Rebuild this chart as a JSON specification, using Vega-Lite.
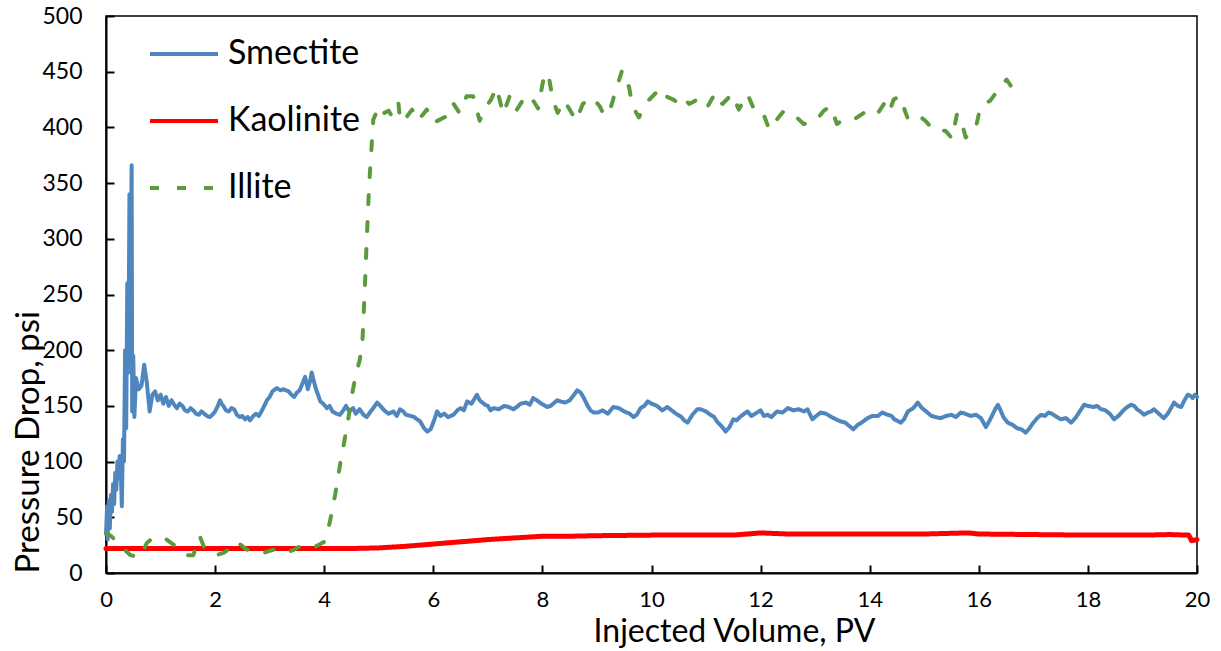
{
  "$schema": "https://vega.github.io/schema/vega-lite/v6.json",
  "width": 1091,
  "height": 557,
  "autosize": "none",
  "padding": {"left": 106, "top": 16, "right": 24, "bottom": 78},
  "background": "white",
  "config": {
    "view": {"stroke": "black", "strokeWidth": 1.5},
    "font": "Lato"
  },
  "datasets": {
    "smectite": [
      {"v":0.00,"p":35},{"v":0.02,"p":60},{"v":0.03,"p":30},{"v":0.05,"p":65},{"v":0.07,"p":40},{"v":0.09,"p":70},{"v":0.11,"p":55},{"v":0.13,"p":80},{"v":0.15,"p":62},{"v":0.17,"p":90},{"v":0.19,"p":75},{"v":0.21,"p":100},{"v":0.23,"p":85},{"v":0.25,"p":105},{"v":0.27,"p":95},{"v":0.29,"p":60},{"v":0.31,"p":120},{"v":0.33,"p":100},{"v":0.35,"p":200},{"v":0.37,"p":130},{"v":0.39,"p":260},{"v":0.41,"p":180},{"v":0.43,"p":340},{"v":0.45,"p":250},{"v":0.47,"p":366},{"v":0.48,"p":145},{"v":0.50,"p":195},{"v":0.52,"p":140},{"v":0.55,"p":175},{"v":0.60,"p":165},{"v":0.65,"p":168},{"v":0.70,"p":187},{"v":0.75,"p":170},{"v":0.80,"p":145},{"v":0.85,"p":160},{"v":0.90,"p":163},{"v":0.95,"p":155},{"v":1.00,"p":160},{"v":1.05,"p":152},{"v":1.10,"p":158},{"v":1.15,"p":150},{"v":1.20,"p":155},{"v":1.25,"p":151},{"v":1.30,"p":148},{"v":1.35,"p":152},{"v":1.40,"p":150},{"v":1.45,"p":146},{"v":1.50,"p":145},{"v":1.55,"p":148},{"v":1.60,"p":146},{"v":1.65,"p":143},{"v":1.70,"p":142},{"v":1.75,"p":145},{"v":1.80,"p":143},{"v":1.85,"p":141},{"v":1.90,"p":140},{"v":1.95,"p":142},{"v":2.00,"p":145},{"v":2.05,"p":150},{"v":2.09,"p":155},{"v":2.12,"p":152},{"v":2.15,"p":150},{"v":2.20,"p":146},{"v":2.25,"p":145},{"v":2.30,"p":148},{"v":2.35,"p":147},{"v":2.40,"p":142},{"v":2.45,"p":140},{"v":2.50,"p":141},{"v":2.55,"p":138},{"v":2.60,"p":140},{"v":2.64,"p":137},{"v":2.70,"p":141},{"v":2.75,"p":143},{"v":2.80,"p":141},{"v":2.85,"p":145},{"v":2.90,"p":150},{"v":2.95,"p":155},{"v":3.00,"p":158},{"v":3.05,"p":163},{"v":3.13,"p":166},{"v":3.20,"p":164},{"v":3.25,"p":165},{"v":3.30,"p":164},{"v":3.35,"p":163},{"v":3.40,"p":160},{"v":3.45,"p":158},{"v":3.50,"p":162},{"v":3.55,"p":164},{"v":3.60,"p":170},{"v":3.65,"p":176},{"v":3.70,"p":165},{"v":3.74,"p":172},{"v":3.77,"p":180},{"v":3.81,"p":172},{"v":3.85,"p":165},{"v":3.93,"p":154},{"v":3.98,"p":152},{"v":4.05,"p":148},{"v":4.10,"p":150},{"v":4.15,"p":145},{"v":4.22,"p":143},{"v":4.29,"p":142},{"v":4.35,"p":146},{"v":4.40,"p":150},{"v":4.46,"p":145},{"v":4.53,"p":148},{"v":4.58,"p":143},{"v":4.65,"p":147},{"v":4.72,"p":142},{"v":4.78,"p":140},{"v":4.85,"p":145},{"v":4.90,"p":148},{"v":4.97,"p":153},{"v":5.03,"p":150},{"v":5.10,"p":146},{"v":5.18,"p":143},{"v":5.27,"p":145},{"v":5.33,"p":141},{"v":5.39,"p":147},{"v":5.45,"p":145},{"v":5.50,"p":142},{"v":5.58,"p":141},{"v":5.65,"p":140},{"v":5.70,"p":138},{"v":5.76,"p":136},{"v":5.83,"p":130},{"v":5.89,"p":127},{"v":5.95,"p":129},{"v":6.00,"p":135},{"v":6.07,"p":145},{"v":6.13,"p":141},{"v":6.20,"p":143},{"v":6.27,"p":140},{"v":6.37,"p":142},{"v":6.44,"p":146},{"v":6.50,"p":148},{"v":6.56,"p":146},{"v":6.62,"p":154},{"v":6.70,"p":152},{"v":6.75,"p":156},{"v":6.80,"p":160},{"v":6.85,"p":155},{"v":6.90,"p":153},{"v":6.95,"p":151},{"v":7.00,"p":150},{"v":7.05,"p":146},{"v":7.10,"p":148},{"v":7.20,"p":147},{"v":7.30,"p":150},{"v":7.38,"p":149},{"v":7.47,"p":147},{"v":7.53,"p":149},{"v":7.60,"p":152},{"v":7.70,"p":153},{"v":7.77,"p":151},{"v":7.83,"p":157},{"v":7.90,"p":155},{"v":7.95,"p":153},{"v":8.02,"p":151},{"v":8.09,"p":149},{"v":8.15,"p":150},{"v":8.20,"p":152},{"v":8.27,"p":155},{"v":8.33,"p":154},{"v":8.42,"p":153},{"v":8.50,"p":155},{"v":8.58,"p":160},{"v":8.64,"p":164},{"v":8.70,"p":162},{"v":8.75,"p":158},{"v":8.82,"p":151},{"v":8.88,"p":146},{"v":8.94,"p":144},{"v":9.02,"p":144},{"v":9.10,"p":146},{"v":9.20,"p":143},{"v":9.30,"p":149},{"v":9.40,"p":148},{"v":9.50,"p":145},{"v":9.60,"p":143},{"v":9.67,"p":140},{"v":9.73,"p":142},{"v":9.80,"p":148},{"v":9.87,"p":150},{"v":9.93,"p":154},{"v":10.00,"p":152},{"v":10.10,"p":150},{"v":10.20,"p":146},{"v":10.29,"p":149},{"v":10.37,"p":146},{"v":10.45,"p":143},{"v":10.55,"p":140},{"v":10.60,"p":137},{"v":10.66,"p":135},{"v":10.75,"p":142},{"v":10.84,"p":147},{"v":10.90,"p":147},{"v":11.00,"p":145},{"v":11.08,"p":142},{"v":11.15,"p":140},{"v":11.20,"p":136},{"v":11.28,"p":132},{"v":11.36,"p":127},{"v":11.43,"p":131},{"v":11.50,"p":138},{"v":11.56,"p":137},{"v":11.62,"p":140},{"v":11.70,"p":143},{"v":11.76,"p":145},{"v":11.83,"p":141},{"v":11.90,"p":143},{"v":12.00,"p":146},{"v":12.06,"p":141},{"v":12.13,"p":142},{"v":12.20,"p":140},{"v":12.30,"p":145},{"v":12.40,"p":144},{"v":12.50,"p":148},{"v":12.60,"p":146},{"v":12.70,"p":147},{"v":12.80,"p":145},{"v":12.86,"p":147},{"v":12.95,"p":138},{"v":13.02,"p":141},{"v":13.10,"p":144},{"v":13.20,"p":143},{"v":13.30,"p":140},{"v":13.38,"p":138},{"v":13.47,"p":136},{"v":13.55,"p":135},{"v":13.60,"p":133},{"v":13.70,"p":129},{"v":13.78,"p":133},{"v":13.85,"p":135},{"v":13.96,"p":139},{"v":14.05,"p":141},{"v":14.15,"p":141},{"v":14.23,"p":144},{"v":14.33,"p":142},{"v":14.40,"p":141},{"v":14.45,"p":138},{"v":14.57,"p":135},{"v":14.63,"p":138},{"v":14.70,"p":145},{"v":14.80,"p":148},{"v":14.88,"p":153},{"v":14.96,"p":148},{"v":15.06,"p":144},{"v":15.13,"p":141},{"v":15.20,"p":140},{"v":15.30,"p":139},{"v":15.40,"p":141},{"v":15.50,"p":142},{"v":15.58,"p":140},{"v":15.67,"p":144},{"v":15.75,"p":143},{"v":15.85,"p":141},{"v":15.95,"p":142},{"v":16.04,"p":139},{"v":16.13,"p":131},{"v":16.20,"p":137},{"v":16.25,"p":142},{"v":16.30,"p":147},{"v":16.35,"p":151},{"v":16.40,"p":146},{"v":16.45,"p":140},{"v":16.53,"p":135},{"v":16.62,"p":133},{"v":16.70,"p":130},{"v":16.78,"p":129},{"v":16.86,"p":126},{"v":16.93,"p":130},{"v":17.00,"p":135},{"v":17.07,"p":139},{"v":17.14,"p":142},{"v":17.21,"p":141},{"v":17.28,"p":144},{"v":17.34,"p":143},{"v":17.40,"p":141},{"v":17.50,"p":138},{"v":17.60,"p":139},{"v":17.69,"p":135},{"v":17.77,"p":139},{"v":17.85,"p":145},{"v":17.93,"p":151},{"v":18.00,"p":150},{"v":18.10,"p":149},{"v":18.17,"p":150},{"v":18.24,"p":147},{"v":18.32,"p":146},{"v":18.40,"p":143},{"v":18.48,"p":138},{"v":18.56,"p":141},{"v":18.65,"p":146},{"v":18.72,"p":149},{"v":18.79,"p":151},{"v":18.85,"p":150},{"v":18.90,"p":147},{"v":18.96,"p":145},{"v":19.03,"p":142},{"v":19.10,"p":144},{"v":19.16,"p":145},{"v":19.21,"p":147},{"v":19.30,"p":143},{"v":19.39,"p":139},{"v":19.45,"p":142},{"v":19.50,"p":146},{"v":19.58,"p":153},{"v":19.65,"p":150},{"v":19.71,"p":149},{"v":19.77,"p":155},{"v":19.83,"p":160},{"v":19.88,"p":159},{"v":19.92,"p":157},{"v":19.96,"p":160},{"v":20.00,"p":158}
    ],
    "kaolinite": [
      {"v":0,"p":22},{"v":1,"p":22},{"v":2,"p":22},{"v":3,"p":22},{"v":4,"p":22},{"v":4.5,"p":22},{"v":5,"p":22.5},{"v":5.5,"p":24},{"v":6,"p":26},{"v":6.5,"p":28},{"v":7,"p":30},{"v":7.5,"p":31.5},{"v":8,"p":33},{"v":8.5,"p":33},{"v":9,"p":33.5},{"v":10,"p":34},{"v":11,"p":34},{"v":11.5,"p":34},{"v":12,"p":36},{"v":12.5,"p":35},{"v":13,"p":35},{"v":14,"p":35},{"v":15,"p":35},{"v":15.8,"p":36},{"v":16,"p":35},{"v":17,"p":34.5},{"v":18,"p":34},{"v":19,"p":34},{"v":19.5,"p":34.5},{"v":19.85,"p":34},{"v":19.9,"p":29},{"v":20,"p":30}
    ],
    "illite": [
      {"v":0.00,"p":36},{"v":0.10,"p":33},{"v":0.25,"p":25},{"v":0.45,"p":16},{"v":0.62,"p":14},{"v":0.75,"p":27},{"v":0.87,"p":32},{"v":1.00,"p":30},{"v":1.11,"p":30},{"v":1.25,"p":25},{"v":1.39,"p":18},{"v":1.50,"p":16},{"v":1.60,"p":16},{"v":1.72,"p":33},{"v":1.79,"p":24},{"v":1.90,"p":20},{"v":2.03,"p":16},{"v":2.15,"p":18},{"v":2.34,"p":24},{"v":2.40,"p":28},{"v":2.58,"p":21},{"v":2.75,"p":20},{"v":2.89,"p":18},{"v":3.07,"p":21},{"v":3.20,"p":20},{"v":3.30,"p":18},{"v":3.45,"p":21},{"v":3.56,"p":24},{"v":3.70,"p":22},{"v":3.85,"p":24},{"v":3.93,"p":26},{"v":4.00,"p":28},{"v":4.10,"p":45},{"v":4.20,"p":70},{"v":4.30,"p":100},{"v":4.35,"p":113},{"v":4.44,"p":138},{"v":4.50,"p":157},{"v":4.57,"p":176},{"v":4.65,"p":191},{"v":4.70,"p":207},{"v":4.74,"p":250},{"v":4.78,"p":299},{"v":4.81,"p":333},{"v":4.83,"p":353},{"v":4.86,"p":376},{"v":4.88,"p":392},{"v":4.90,"p":407},{"v":4.98,"p":416},{"v":5.03,"p":410},{"v":5.10,"p":413},{"v":5.18,"p":415},{"v":5.24,"p":410},{"v":5.30,"p":418},{"v":5.36,"p":422},{"v":5.39,"p":407},{"v":5.46,"p":412},{"v":5.52,"p":410},{"v":5.61,"p":416},{"v":5.70,"p":406},{"v":5.80,"p":411},{"v":5.88,"p":416},{"v":6.00,"p":404},{"v":6.12,"p":407},{"v":6.24,"p":410},{"v":6.30,"p":416},{"v":6.36,"p":422},{"v":6.48,"p":413},{"v":6.55,"p":420},{"v":6.61,"p":428},{"v":6.73,"p":428},{"v":6.85,"p":406},{"v":6.97,"p":419},{"v":7.06,"p":425},{"v":7.16,"p":436},{"v":7.28,"p":412},{"v":7.40,"p":428},{"v":7.52,"p":415},{"v":7.65,"p":425},{"v":7.77,"p":429},{"v":7.92,"p":417},{"v":8.04,"p":449},{"v":8.13,"p":442},{"v":8.19,"p":425},{"v":8.28,"p":413},{"v":8.40,"p":424},{"v":8.50,"p":416},{"v":8.62,"p":406},{"v":8.74,"p":421},{"v":8.92,"p":427},{"v":9.05,"p":419},{"v":9.14,"p":410},{"v":9.26,"p":419},{"v":9.35,"p":434},{"v":9.46,"p":451},{"v":9.59,"p":436},{"v":9.65,"p":419},{"v":9.77,"p":409},{"v":9.86,"p":418},{"v":9.96,"p":425},{"v":10.08,"p":431},{"v":10.18,"p":424},{"v":10.26,"p":428},{"v":10.40,"p":425},{"v":10.51,"p":421},{"v":10.60,"p":426},{"v":10.69,"p":421},{"v":10.84,"p":425},{"v":10.90,"p":425},{"v":11.02,"p":418},{"v":11.17,"p":431},{"v":11.30,"p":421},{"v":11.48,"p":430},{"v":11.60,"p":416},{"v":11.76,"p":430},{"v":11.88,"p":416},{"v":12.03,"p":415},{"v":12.16,"p":398},{"v":12.28,"p":406},{"v":12.43,"p":415},{"v":12.64,"p":410},{"v":12.79,"p":403},{"v":13.01,"p":406},{"v":13.16,"p":415},{"v":13.28,"p":419},{"v":13.40,"p":403},{"v":13.52,"p":407},{"v":13.71,"p":407},{"v":13.95,"p":415},{"v":14.14,"p":412},{"v":14.26,"p":421},{"v":14.35,"p":413},{"v":14.44,"p":425},{"v":14.55,"p":428},{"v":14.69,"p":409},{"v":14.84,"p":413},{"v":15.02,"p":406},{"v":15.18,"p":397},{"v":15.39,"p":397},{"v":15.51,"p":390},{"v":15.60,"p":412},{"v":15.66,"p":409},{"v":15.76,"p":391},{"v":15.94,"p":398},{"v":16.03,"p":419},{"v":16.21,"p":424},{"v":16.36,"p":434},{"v":16.51,"p":443},{"v":16.63,"p":434}
    ]
  },
  "encoding": {
    "x": {
      "field": "v", "type": "quantitative",
      "scale": {"domain": [0, 20], "nice": false, "zero": false},
      "axis": {
        "title": "Injected Volume, PV",
        "values": [0,2,4,6,8,10,12,14,16,18,20],
        "grid": false, "labelFlush": false,
        "domainColor": "black", "domainWidth": 2,
        "tickColor": "black", "tickWidth": 2, "tickSize": -8,
        "labelFontSize": 22, "labelColor": "black", "labelPadding": 24,
        "titleFontSize": 32, "titleFontWeight": "normal", "titleColor": "black",
        "titleX": 628, "titleY": 58, "titleAlign": "center", "titleBaseline": "middle"
      }
    },
    "y": {
      "field": "p", "type": "quantitative",
      "scale": {"domain": [0, 500], "nice": false},
      "axis": {
        "title": "Pressure Drop, psi",
        "values": [0,50,100,150,200,250,300,350,400,450,500],
        "grid": false, "labelFlush": false,
        "domainColor": "black", "domainWidth": 2,
        "tickColor": "black", "tickWidth": 2, "tickSize": -8,
        "labelFontSize": 23, "labelColor": "black", "labelPadding": 32,
        "titleFontSize": 33, "titleFontWeight": "normal", "titleColor": "black",
        "titleX": -78, "titleY": 557, "titleAlign": "left", "titleBaseline": "middle", "titleAngle": -90
      }
    },
    "color": {
      "field": "series", "type": "nominal",
      "scale": {"domain": ["Smectite", "Kaolinite", "Illite"], "range": ["#4F86BE", "#FF0000", "#5B9B3C"]},
      "legend": {
        "title": null, "orient": "none", "legendX": 42, "legendY": 2,
        "symbolType": "stroke", "symbolSize": 4624, "symbolStrokeWidth": 4,
        "labelFontSize": 34, "labelColor": "black", "labelOffset": 8, "rowPadding": 14
      }
    },
    "strokeDash": {
      "field": "series", "type": "nominal",
      "scale": {"domain": ["Smectite", "Kaolinite", "Illite"], "range": [[1, 0], [1, 0], [9, 18]]},
      "legend": {
        "title": null, "orient": "none", "legendX": 42, "legendY": 2,
        "symbolType": "stroke", "symbolSize": 4624, "symbolStrokeWidth": 4,
        "labelFontSize": 34, "labelColor": "black", "labelOffset": 8, "rowPadding": 14
      }
    }
  },
  "layer": [
    {
      "data": {"name": "smectite"},
      "transform": [{"calculate": "'Smectite'", "as": "series"}],
      "mark": {"type": "line", "strokeWidth": 4, "strokeCap": "round", "strokeJoin": "round"}
    },
    {
      "data": {"name": "kaolinite"},
      "transform": [{"calculate": "'Kaolinite'", "as": "series"}],
      "mark": {"type": "line", "strokeWidth": 5, "strokeCap": "round", "strokeJoin": "round"}
    },
    {
      "data": {"name": "illite"},
      "transform": [{"calculate": "'Illite'", "as": "series"}],
      "mark": {"type": "line", "strokeWidth": 4, "strokeCap": "round", "strokeJoin": "round"}
    }
  ]
}
